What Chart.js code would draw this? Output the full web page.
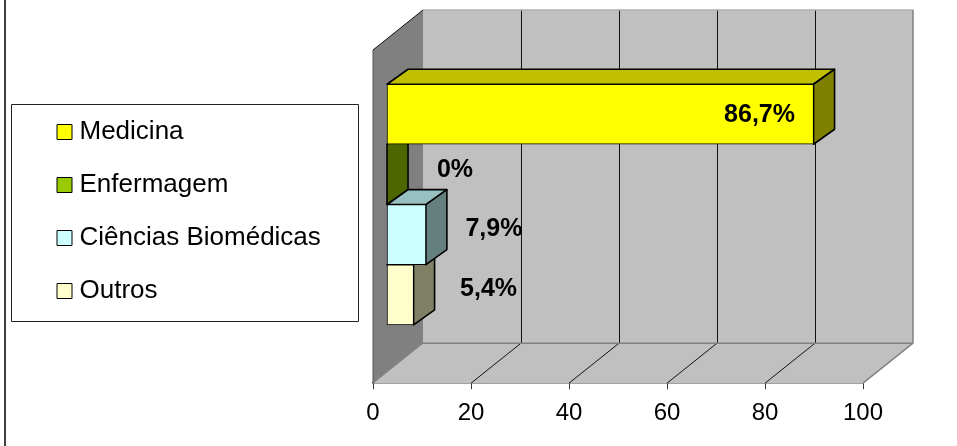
<!DOCTYPE html>
<html lang="pt">
<head>
<meta charset="utf-8">
<title>Cursos</title>
<script src="https://cdn.jsdelivr.net/npm/chart.js@4"></script>
<style>
    html, body { margin: 0; padding: 0; background: #fff; }
    #wrap { width: 957px; height: 446px; }
    canvas { display: block; }
</style>
</head>
<body>
<div id="wrap"><canvas id="chart" width="957" height="446"></canvas></div>
<script>
const categories = ['Medicina', 'Enfermagem', 'Ciências Biomédicas', 'Outros'];
const shares = [86.7, 0, 7.9, 5.4];
const shareLabels = ['86,7%', '0%', '7,9%', '5,4%'];
const frontColors = ['#FFFF00', '#99CC00', '#CCFFFF', '#FFFFCC'];
const topColors = ['#C0C000', '#739900', '#99C0C0', '#C0C099'];
const sideColors = ['#808000', '#4D6600', '#668080', '#808066'];
const xTicks = [0, 20, 40, 60, 80, 100];

// label offset from the end of each bar, in pixels
const labelShift = [[-54, 1], [68, -4], [68, -6], [75, -6]];

const FONT = '"Liberation Sans", Arial, sans-serif';
const WALL_DX = 50, WALL_DY = -40;   // depth of the 3D box
const BAR_DX = 21, BAR_DY = -15;     // depth of one bar

function poly(ctx, pts, fill, stroke, width) {
    ctx.beginPath();
    pts.forEach((p, i) => i ? ctx.lineTo(p[0], p[1]) : ctx.moveTo(p[0], p[1]));
    ctx.closePath();
    if (fill) { ctx.fillStyle = fill; ctx.fill(); }
    if (stroke) { ctx.strokeStyle = stroke; ctx.lineWidth = width; ctx.stroke(); }
}

function line(ctx, x1, y1, x2, y2, color, width) {
    ctx.beginPath();
    ctx.moveTo(x1, y1);
    ctx.lineTo(x2, y2);
    ctx.strokeStyle = color;
    ctx.lineWidth = width;
    ctx.stroke();
}

// Back wall, left wall and floor, with gridlines taken from the x scale
const boxPlugin = {
    id: 'box3d',
    beforeDatasetsDraw(chart) {
        const { ctx, chartArea: a, scales } = chart;
        const l = a.left, r = a.right, t = a.top, b = a.bottom;
        const dx = WALL_DX, dy = WALL_DY;
        ctx.save();
        // sheet edge on the left
        line(ctx, 5, 0, 5, 446, '#000', 1.5);
        poly(ctx, [[l + dx, t + dy], [r + dx, t + dy], [r + dx, b + dy], [l + dx, b + dy]], '#C0C0C0');
        poly(ctx, [[l, b], [r, b], [r + dx, b + dy], [l + dx, b + dy]], '#C0C0C0');
        poly(ctx, [[l, t], [l + dx, t + dy], [l + dx, b + dy], [l, b]], '#808080');
        xTicks.slice(1, -1).forEach(v => {
            const x = scales.x.getPixelForValue(v);
            line(ctx, x + dx + 0.5, t + dy, x + dx + 0.5, b + dy, '#111', 1);
            line(ctx, x, b, x + dx, b + dy, '#111', 1);
        });
        line(ctx, l + dx, t + dy, r + dx, t + dy, '#B0B0B0', 1.5);
        line(ctx, r + dx, t + dy, r + dx, b + dy, '#808080', 1.5);
        line(ctx, l + dx, b + dy, r + dx, b + dy, '#808080', 1.5);
        line(ctx, r + dx, b + dy, r, b, '#808080', 1.5);
        line(ctx, l, b, l + dx, b + dy, '#808080', 1);
        line(ctx, l, t, l + dx, t + dy, '#111', 1);
        line(ctx, l, t, l, b, '#555', 1);
        ctx.restore();
    },
    // top and side faces go in just before the front face of the same bar
    beforeDatasetDraw(chart, args) {
        const { ctx } = chart;
        const i = args.index;
        const el = chart.getDatasetMeta(i).data[0];
        if (!el) return;
        const x0 = el.base, x1 = el.x;
        const y0 = el.y - el.height / 2, y1 = el.y + el.height / 2;
        ctx.save();
        ctx.lineJoin = 'round';
        poly(ctx, [[x0, y0], [x0 + BAR_DX, y0 + BAR_DY], [x1 + BAR_DX, y0 + BAR_DY], [x1, y0]],
            topColors[i], '#000', 1.6);
        poly(ctx, [[x1, y0], [x1 + BAR_DX, y0 + BAR_DY], [x1 + BAR_DX, y1 + BAR_DY], [x1, y1]],
            sideColors[i], '#000', 1.6);
        ctx.restore();
    },
    afterDatasetsDraw(chart) {
        const { ctx } = chart;
        ctx.save();
        ctx.font = 'bold 25px ' + FONT;
        ctx.fillStyle = '#000';
        ctx.textAlign = 'center';
        ctx.textBaseline = 'middle';
        shareLabels.forEach((text, i) => {
            const el = chart.getDatasetMeta(i).data[0];
            ctx.fillText(text, el.x + labelShift[i][0], el.y + labelShift[i][1]);
        });
        ctx.restore();
    },
    // legend keeps the library's rows but sits in its own frame
    afterLayout(chart) {
        const lg = chart.legend;
        lg.left = 35.5;
        lg.right = 358;
        lg.top = 92;
        lg.bottom = 440; // rows wrap past this line, keep it well below the last one
    },
    beforeDraw(chart) {
        const { ctx } = chart;
        ctx.save();
        poly(ctx, [[11.5, 104.5], [358.5, 104.5], [358.5, 321.5], [11.5, 321.5]], '#fff', '#222', 1);
        ctx.restore();
    }
};

new Chart(document.getElementById('chart'), {
    type: 'bar',
    data: {
        datasets: categories.map((name, i) => ({
            label: name,
            data: [{ x: shares[i], y: i }],
            xAxisID: 'xBar',
            yAxisID: 'y',
            grouped: false,
            barThickness: 60,
            backgroundColor: frontColors[i],
            borderColor: '#000',
            borderWidth: 1,
            borderSkipped: false,
            clip: false
        }))
    },
    options: {
        indexAxis: 'y',
        responsive: false,
        animation: false,
        layout: { padding: { left: 373, right: 94, top: 50, bottom: 8 } },
        plugins: {
            tooltip: { enabled: false },
            legend: {
                position: 'chartArea',
                align: 'start',
                labels: {
                    usePointStyle: true,
                    pointStyle: 'rect',
                    boxWidth: 4,
                    boxHeight: 15,
                    padding: 27,
                    color: '#000',
                    font: { family: FONT, size: 26 }
                }
            }
        },
        scales: {
            x: {
                type: 'linear',
                position: 'bottom',
                min: 0,
                max: 100,
                afterBuildTicks: axis => { axis.ticks = xTicks.map(v => ({ value: v })); },
                border: { color: '#333', width: 1.5 },
                grid: { drawOnChartArea: false, tickLength: 6, tickColor: '#333' },
                ticks: { color: '#000', padding: 10, maxRotation: 0, font: { family: FONT, size: 24 } }
            },
            // bars stand on a plane set forward of the wall, so they get their own x mapping
            xBar: { type: 'linear', display: false, min: -2.85, max: 96.75 },
            y: { type: 'linear', display: false, offset: false, reverse: true, min: -1.0667, max: 4.4667 }
        }
    },
    plugins: [boxPlugin]
});
</script>
</body>
</html>
